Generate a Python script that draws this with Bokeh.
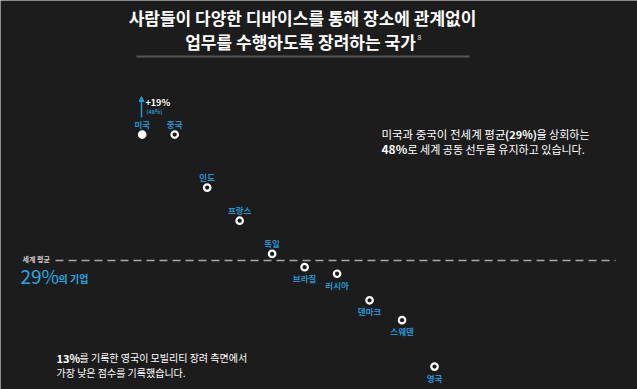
from bokeh.plotting import figure
from bokeh.models import ColumnDataSource, Range1d, Label, Arrow, NormalHead
from bokeh.core.properties import value
from bokeh.embed import file_html
from bokeh.resources import INLINE

# ---- data ----
countries = ["미국", "중국", "인도", "프랑스", "독일", "브라질", "러시아", "덴마크", "스웨덴", "영국"]
scores = [48, 48, 40, 35, 30, 28, 27, 23, 20, 13]
world_avg = 29
title_lines = ["사람들이 다양한 디바이스를 통해 장소에 관계없이", "업무를 수행하도록 장려하는 국가"]

BG = "#1c1c1c"
BLUE = "#2196d3"
BRIGHT = "#27a9e1"
FONT = "Noto Sans CJK KR"

W, H = 637, 389
kx = 32.48          # px per category step
ky = 6.63           # px per percent
x0 = -141.7 / kx
y1 = world_avg + 260 / ky
xr = Range1d(x0, x0 + W / kx)
yr = Range1d(y1 - H / ky, y1)

def X(rx):
    return x0 + rx / kx

def Y(ry):
    return y1 - ry / ky

p = figure(width=W, height=H, x_range=xr, y_range=yr, output_backend="svg",
           toolbar_location=None, min_border=0, background_fill_color=BG,
           border_fill_color=BG, outline_line_color=None)
p.axis.visible = False
p.grid.visible = False

idx = list(range(len(countries)))
above = [s > world_avg for s in scores]
src = ColumnDataSource(dict(
    x=idx, y=scores, name=countries,
    off=[-11 if a else 11 for a in above],
    fill=["white" if i == 0 else BG for i in idx],
))

# average dashed line
p.line([X(55), X(615)], [world_avg, world_avg], line_color="#a8a8a8",
       line_width=1.5, line_dash="8 5")

# dots
p.scatter("x", "y", source=src, size=6.5, fill_color="fill", line_color="white",
          line_width=2.2)

# country labels
p.text("x", "y", text="name", source=src, y_offset="off", text_align="center",
       text_baseline="middle", text_color=BLUE, text_font=value(FONT),
       text_font_size="8.5px", text_font_style="bold")

def lab(x, y, t, size, color="white", style="normal", align="left"):
    p.add_layout(Label(x=X(x), y=Y(y), text=t, text_font=FONT, text_font_size=size,
                       text_color=color, text_font_style=style, text_align=align,
                       text_baseline="middle"))

# title
lab(302, 17, title_lines[0], "17px", style="bold", align="center")
lab(300, 41, title_lines[1], "17px", style="bold", align="center")
lab(417, 36, "8", "7px", color="#dddddd")
p.line([X(136), X(469)], [Y(56), Y(56)], line_color="#555555", line_width=2)

# arrow and change label for US
p.add_layout(Arrow(end=NormalHead(size=5, fill_color=BLUE, line_color=BLUE),
                   x_start=X(141), y_start=Y(117), x_end=X(141), y_end=Y(96),
                   line_color=BLUE, line_width=1.5))
lab(145, 102, f"+{scores[0] - world_avg}%", "9px", style="bold")
lab(146, 111, f"({scores[0]}%)", "5.5px", color=BLUE, style="bold")

# average label
lab(22, 258, "세계 평균", "7px", color="#cccccc", style="bold")
lab(20, 275, f"{world_avg}%", "19px", color=BRIGHT)
lab(58, 278, "의 기업", "10px", color=BRIGHT, style="bold")

# right annotation
lab(505, 133, "미국과 중국이 전세계 평균", "11.5px", align="right")
lab(520.5, 133, f"({world_avg}%)", "11px", style="bold", align="center")
lab(536, 133, "을 상회하는", "11px")
lab(381, 148, f"{scores[0]}%", "12px", style="bold")
lab(407, 148, "로 세계 공동 선두를 유지하고 있습니다.", "11px")

# bottom annotation
lab(56, 357, f"{scores[-1]}%", "11px", style="bold")
lab(79, 357, "를 기록한 영국이 모빌리티 장려 측면에서", "10px")
lab(56, 372, "가장 낮은 점수를 기록했습니다.", "10px")

open("out.html", "w").write(file_html(p, INLINE))
